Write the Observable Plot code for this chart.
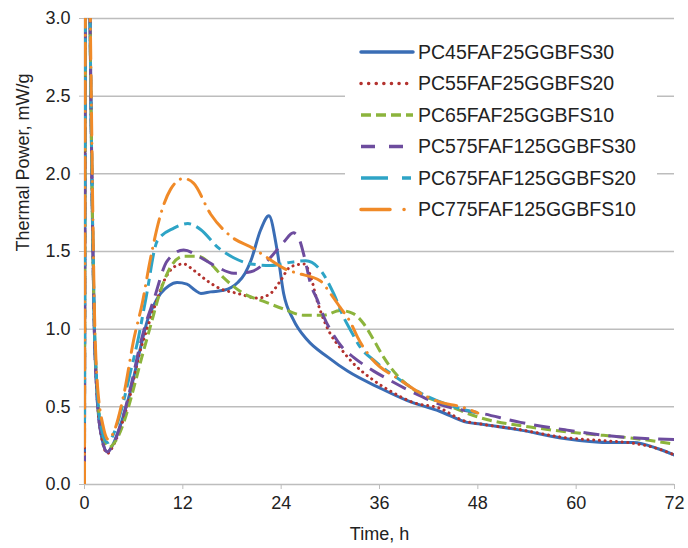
<!DOCTYPE html>
<html><head><meta charset="utf-8">
<script src="https://cdn.jsdelivr.net/npm/d3@7"></script>
<script src="https://cdn.jsdelivr.net/npm/@observablehq/plot@0.6"></script>
<style>
body{margin:0;background:#fff;}
#chart{width:688px;height:548px;}
</style></head><body><div id="chart"></div>
<script>
const seriesNames = ["PC45FAF25GGBFS30","PC55FAF25GGBFS20","PC65FAF25GGBFS10","PC575FAF125GGBFS30","PC675FAF125GGBFS20","PC775FAF125GGBFS10"];
const xTicks = [0,12,24,36,48,60,72];
const yTicks = [0,0.5,1.0,1.5,2.0,2.5,3.0];

const t45 = [0,0.15,0.6,0.8,1.0,1.2,1.5,2.0,2.8,3.5,4.5,5.6,6.7,7.7,8.5,9.3,10.3,11.3,12.5,13.5,14.2,15.4,17,18.7,19.6,20.3,21.5,22.5,23.5,24.3,25.5,27.2,29.7,32.1,36.1,39.4,43.4,46.7,48.3,53.2,58.1,64.6,67,70,72];
const v45 = [0.2,3.4,3.2,2.4,1.6,1.0,0.6,0.33,0.21,0.26,0.40,0.60,0.85,1.06,1.16,1.23,1.28,1.30,1.29,1.25,1.23,1.24,1.25,1.30,1.36,1.44,1.64,1.73,1.51,1.23,1.06,0.93,0.82,0.73,0.62,0.54,0.47,0.40,0.39,0.35,0.30,0.27,0.27,0.23,0.19];

const t55 = [0,0.15,0.6,0.8,1.0,1.2,1.5,2.0,2.8,3.5,4.5,5.6,6.7,7.5,8.4,9.7,10.9,12.1,13.3,15,16.6,18.7,21.1,22.7,23.9,25.1,26.8,27.6,28.4,29.2,30,31.2,32.8,35.3,37.7,40,43.4,46.3,48.3,52.4,58.9,64,66.3,70,72];
const v55 = [0.2,3.4,3.2,2.4,1.6,1.0,0.6,0.33,0.20,0.25,0.38,0.58,0.84,0.98,1.12,1.31,1.40,1.42,1.38,1.31,1.26,1.23,1.20,1.23,1.31,1.40,1.42,1.34,1.18,1.06,0.97,0.88,0.78,0.67,0.59,0.53,0.49,0.41,0.39,0.36,0.30,0.28,0.27,0.23,0.19];

const t65 = [0,0.15,0.6,0.8,1.0,1.2,1.5,2.0,3.0,3.8,4.8,5.8,7.0,8.0,9.3,10.5,12.1,13.8,15.4,17,19.4,21.8,24.3,26.7,29.2,31.2,32.8,34,35.3,36.5,38.2,40.2,44.3,48.3,54.4,60.5,66.6,72];
const v65 = [0.5,3.4,3.2,2.4,1.6,1.05,0.65,0.38,0.24,0.28,0.40,0.58,0.82,1.01,1.25,1.40,1.47,1.47,1.42,1.33,1.23,1.18,1.13,1.09,1.09,1.12,1.10,1.04,0.93,0.82,0.70,0.61,0.51,0.43,0.37,0.33,0.30,0.26];

const t575 = [0,0.15,0.6,0.8,1.0,1.2,1.5,2.0,2.8,3.5,4.5,5.6,6.7,7.5,8.4,10.1,12.1,14.2,16.2,18.2,20.3,22.3,24.3,25.5,26.2,26.9,27.6,28.4,29.2,30.3,31.5,32.8,35.3,37.3,40.2,44.3,48.3,53.2,58.9,64.6,72];
const v575 = [0.1,3.4,3.2,2.4,1.6,1.0,0.6,0.33,0.21,0.26,0.40,0.62,0.88,1.04,1.18,1.44,1.51,1.46,1.40,1.36,1.37,1.44,1.56,1.62,1.58,1.45,1.29,1.19,1.08,0.97,0.88,0.82,0.73,0.67,0.59,0.50,0.46,0.40,0.35,0.31,0.29];

const t675 = [0,0.15,0.6,0.8,1.0,1.2,1.5,2.0,2.8,3.5,4.5,5.5,6.6,7.5,8.9,10.9,12.6,14.2,16.2,18.2,20.3,22.7,25.1,27,28.8,30.4,31.6,32.5,33.7,35.3,38.6,40,44,48];
const v675 = [0.4,3.4,3.2,2.4,1.65,1.05,0.65,0.38,0.27,0.32,0.48,0.70,0.95,1.2,1.57,1.65,1.68,1.64,1.53,1.46,1.42,1.41,1.43,1.44,1.38,1.23,1.08,0.99,0.88,0.80,0.67,0.62,0.52,0.46];

const t775 = [0,0.15,0.6,0.8,1.0,1.2,1.5,2.3,2.9,3.5,4.8,6.0,7.1,8.0,9.3,10.5,12.1,13.3,15.4,17.8,20.6,22.3,24.8,26,28.8,30,31.2,32.5,33.3,34.9,38.6,40.6,43.4,46,48];
const v775 = [0,3.4,3.3,2.6,1.8,1.15,0.7,0.37,0.29,0.33,0.58,0.93,1.18,1.44,1.74,1.90,1.97,1.94,1.74,1.60,1.52,1.46,1.38,1.36,1.31,1.23,1.14,1.04,0.95,0.82,0.67,0.60,0.53,0.50,0.46];

const times = [t45,t55,t65,t575,t675,t775];
const values = [v45,v55,v65,v575,v675,v775];
const colors = ["#3a6db5","#b3322e","#8cb43c","#6d4c9e","#2ea4c6","#f08a28"];
const dashes = ["none","0.1,5.6","10,5","16,9","20,6,7,6","22,8,0.1,8"];
const legendDashes = ["none","0.1,7.5","10,5","14,14","27,14,9,60","29,14,0.1,60"];
const caps = ["round","round","butt","butt","butt","round"];

const rows = [];
seriesNames.forEach((s,i) => times[i].forEach((t,j) => rows.push({series:s, t, v:values[i][j]})));

const font = "'Liberation Sans', Arial, sans-serif";
const lineMarks = seriesNames.map((s,i) => Plot.line(rows.filter(d => d.series === s), {
  x:"t", y:"v", stroke: colors[i], strokeWidth: 3, strokeDasharray: dashes[i],
  strokeLinecap: caps[i], strokeLinejoin:"round", curve:"monotone-x", clip:true
}));

const plot = Plot.plot({
  width: 688, height: 548,
  marginLeft: 84, marginRight: 14, marginTop: 18, marginBottom: 64,
  style: {fontFamily: font, fontSize: "18px", color: "#222", background: "#fff"},
  x: {domain: [0,72], label: null},
  y: {domain: [0,3], label: null},
  marks: [
    Plot.gridY(yTicks, {stroke: "#bdbdbd", strokeOpacity: 1, strokeWidth: 1.5}),
    Plot.ruleX([0], {stroke: "#bdbdbd", strokeWidth: 1.5}),
    Plot.axisY(yTicks, {tickFormat: d => d.toFixed(1), tickSize: 5, tickPadding: 9, stroke: "#bdbdbd", fill: "#222", fontSize: 18}),
    Plot.axisX(xTicks, {tickSize: 5, tickPadding: 7, stroke: "#bdbdbd", fill: "#222", fontSize: 18}),
    ...lineMarks,
    Plot.text(["Time, h"], {frameAnchor: "bottom", lineAnchor: "middle", dy: 50, fontSize: 18, fill: "#222"}),
    Plot.text(["Thermal Power, mW/g"], {frameAnchor: "left", rotate: -90, dx: -61, fontSize: 18, fill: "#222"})
  ]
});

const svg = d3.select(plot);
const lg = svg.append("g").attr("text-anchor", "start");
lg.append("rect").attr("x", 345).attr("y", 31).attr("width", 312).attr("height", 194).attr("fill", "#fff");
seriesNames.forEach((s,i) => {
  const y = 52 + i*31.5;
  lg.append("line").attr("x1", 361).attr("x2", 413).attr("y1", y).attr("y2", y)
    .attr("stroke", colors[i]).attr("stroke-width", 3.5)
    .attr("stroke-dasharray", legendDashes[i] === "none" ? null : legendDashes[i])
    .attr("stroke-linecap", caps[i]);
  lg.append("text").attr("x", 418).attr("y", y).attr("dy", "0.35em")
    .attr("text-anchor", "start")
    .attr("font-family", font).attr("font-size", 19.5).attr("fill", "#222").text(s);
});

document.getElementById("chart").appendChild(plot);
</script>
</body></html>
